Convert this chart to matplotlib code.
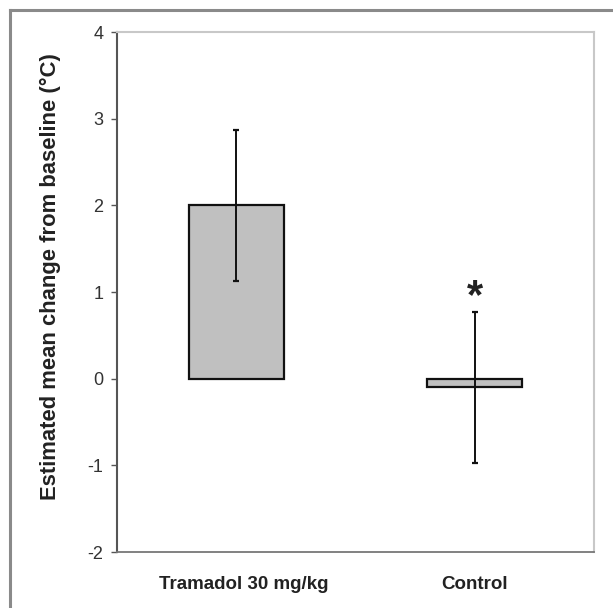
import matplotlib
matplotlib.use("Agg")
import matplotlib.pyplot as plt
from matplotlib.lines import Line2D
from matplotlib.transforms import ScaledTranslation

categories = ["Tramadol 30 mg/kg", "Control"]
means = [2.0, -0.1]
errors = [0.875, 0.87]
significance = ["", "*"]
yticks = [-2, -1, 0, 1, 2, 3, 4]

fig = plt.figure(figsize=(6.13, 6.08), dpi=100)
ax = fig.add_axes([0.1909, 0.0921, 0.778, 0.855])

x = list(range(len(categories)))
ax.bar(x, means, width=0.4, color="#c0c0c0", edgecolor="#111111", linewidth=1.6, zorder=2)
ax.errorbar(x, means, yerr=errors, fmt="none", ecolor="#111111", elinewidth=1.4,
            capsize=2.5, capthick=1.6, zorder=3)

for xi, m, e, s in zip(x, means, errors, significance):
    if s:
        ax.text(xi, m + e + 0.17, s, ha="center", va="center", fontsize=30,
                fontweight="bold", family="Liberation Sans", color="#222222")

ax.set_xlim(-0.5, 1.5)
ax.set_ylim(-2, 4)
ax.set_yticks(yticks)
ax.set_yticklabels([str(t) for t in yticks], fontsize=13, family="Liberation Sans", color="#333333")
ax.set_xticks(x)
ax.set_xticklabels(categories, fontsize=13.5, fontweight="bold", family="Liberation Sans", color="#222222")
ax.tick_params(axis="x", length=0, pad=17)
ax.tick_params(axis="y", length=4, width=1, color="#555555", pad=6, direction="out")
# first category label sits slightly right of its bar in the reference
lbl0 = ax.get_xticklabels()[0]
lbl0.set_transform(lbl0.get_transform() + ScaledTranslation(0.07, 0, fig.dpi_scale_trans))

ax.set_ylabel("Estimated mean change from baseline (°C)", fontsize=15.8, fontweight="bold",
              family="Liberation Sans", color="#222222")
ax.yaxis.set_label_coords(-0.117, 0.529)

ax.spines["left"].set_color("#555555")
ax.spines["left"].set_linewidth(1.5)
ax.spines["bottom"].set_color("#777777")
ax.spines["bottom"].set_linewidth(1.3)
ax.spines["top"].set_color("#c8c8c8")
ax.spines["top"].set_linewidth(1.5)
ax.spines["right"].set_color("#c8c8c8")
ax.spines["right"].set_linewidth(1.5)

# outer frame (left and top edges)
fig.add_artist(Line2D([10/613, 10/613], [0, 1 - 10/608], transform=fig.transFigure,
                      color="#8a8a8a", linewidth=2.2))
fig.add_artist(Line2D([10/613, 1], [1 - 10/608, 1 - 10/608], transform=fig.transFigure,
                      color="#8a8a8a", linewidth=2.2))

fig.savefig("out.png", dpi=100)
